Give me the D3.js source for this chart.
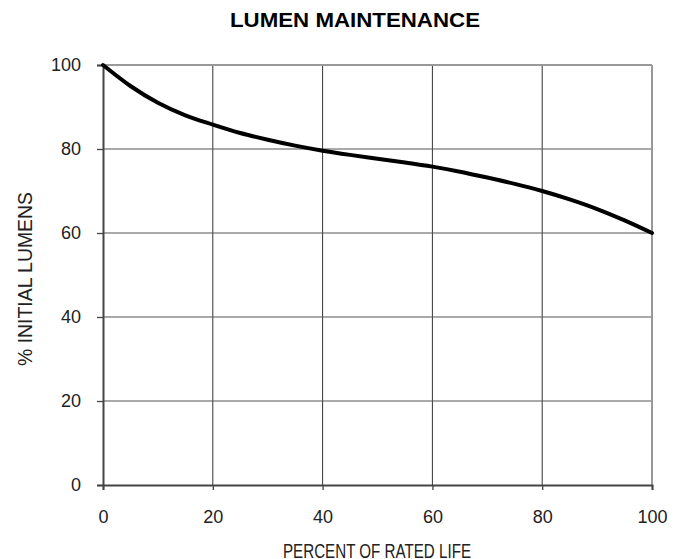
<!DOCTYPE html>
<html>
<head>
<meta charset="utf-8">
<script src="https://cdn.jsdelivr.net/npm/d3@7"></script>
<style>
  body { margin: 0; background: #fff; }
  svg { font-family: "Liberation Sans", Arial, sans-serif; }
</style>
</head>
<body>
<div id="chart"></div>
<script>
// percent of rated life vs % initial lumens
var lifePct = [0, 5, 10, 15, 20, 25, 30, 35, 40, 45, 50, 55, 60, 65, 70, 75, 80, 85, 90, 95, 100];
var lumenPct = [100, 95, 91, 88, 85.8, 83.8, 82.2, 80.8, 79.6, 78.6, 77.7, 76.8, 75.8, 74.6, 73.2, 71.7, 70, 68, 65.7, 63, 60];
var xTicks = [0, 20, 40, 60, 80, 100];
var yTicks = [0, 20, 40, 60, 80, 100];

var W = 683, H = 559;
var plotL = 103, plotR = 652, plotT = 65, plotB = 485;

var svg = d3.select("#chart").append("svg").attr("width", W).attr("height", H);

var x = d3.scaleLinear().domain([0, 100]).range([plotL, plotR]);
var y = d3.scaleLinear().domain([0, 100]).range([plotB, plotT]);

// vertical grid lines
svg.selectAll("line.vg")
    .data(xTicks.slice(1, -1))
    .enter().append("line")
    .attr("x1", function(d) { return x(d); })
    .attr("x2", function(d) { return x(d); })
    .attr("y1", plotT).attr("y2", plotB)
    .style("stroke", "#333").style("stroke-width", 1);

// horizontal grid lines
svg.selectAll("line.hg")
    .data(yTicks.slice(1, -1))
    .enter().append("line")
    .attr("y1", function(d) { return y(d); })
    .attr("y2", function(d) { return y(d); })
    .attr("x1", plotL).attr("x2", plotR)
    .style("stroke", "#555").style("stroke-width", 1.2);

// top and right border
svg.append("line").attr("x1", plotL).attr("x2", plotR).attr("y1", plotT).attr("y2", plotT)
    .style("stroke", "#999").style("stroke-width", 2);
svg.append("line").attr("x1", plotR).attr("x2", plotR).attr("y1", plotT).attr("y2", plotB)
    .style("stroke", "#999").style("stroke-width", 2);

// axes
var yAxis = d3.axisLeft(y).tickValues(yTicks).tickSize(6).tickPadding(16);
var gy = svg.append("g").attr("transform", "translate(" + plotL + ",0)").call(yAxis);
var xAxis = d3.axisBottom(x).tickValues(xTicks).tickSize(5).tickPadding(20);
var gx = svg.append("g").attr("transform", "translate(0," + plotB + ")").call(xAxis);

[gy, gx].forEach(function(g) {
  g.select(".domain").style("stroke", "#444").style("stroke-width", 2);
  g.selectAll(".tick line").style("stroke", "#444").style("stroke-width", 1.3);
  g.selectAll("text").style("font-size", "18px").style("fill", "#222")
    .style("font-family", "'Liberation Sans', Arial, sans-serif");
});

// the curve
var line = d3.line()
    .x(function(d, i) { return x(lifePct[i]); })
    .y(function(d) { return y(d); })
    .curve(d3.curveMonotoneX);

svg.append("path")
    .datum(lumenPct)
    .attr("d", line)
    .style("fill", "none")
    .style("stroke", "#000")
    .style("stroke-width", 4)
    .style("stroke-linecap", "round");

// title and axis labels
svg.append("text")
    .attr("x", 355).attr("y", 27)
    .attr("text-anchor", "middle")
    .attr("textLength", 250).attr("lengthAdjust", "spacingAndGlyphs")
    .style("font-size", "21px").style("font-weight", "bold")
    .text("LUMEN MAINTENANCE");

svg.append("text")
    .attr("transform", "translate(32,279) rotate(-90)")
    .attr("text-anchor", "middle")
    .attr("textLength", 174).attr("lengthAdjust", "spacingAndGlyphs")
    .style("font-size", "21px").style("fill", "#222")
    .text("% INITIAL LUMENS");

svg.append("text")
    .attr("x", 377).attr("y", 558)
    .attr("text-anchor", "middle")
    .attr("textLength", 188).attr("lengthAdjust", "spacingAndGlyphs")
    .style("font-size", "20px").style("fill", "#222")
    .text("PERCENT OF RATED LIFE");
</script>
</body>
</html>
